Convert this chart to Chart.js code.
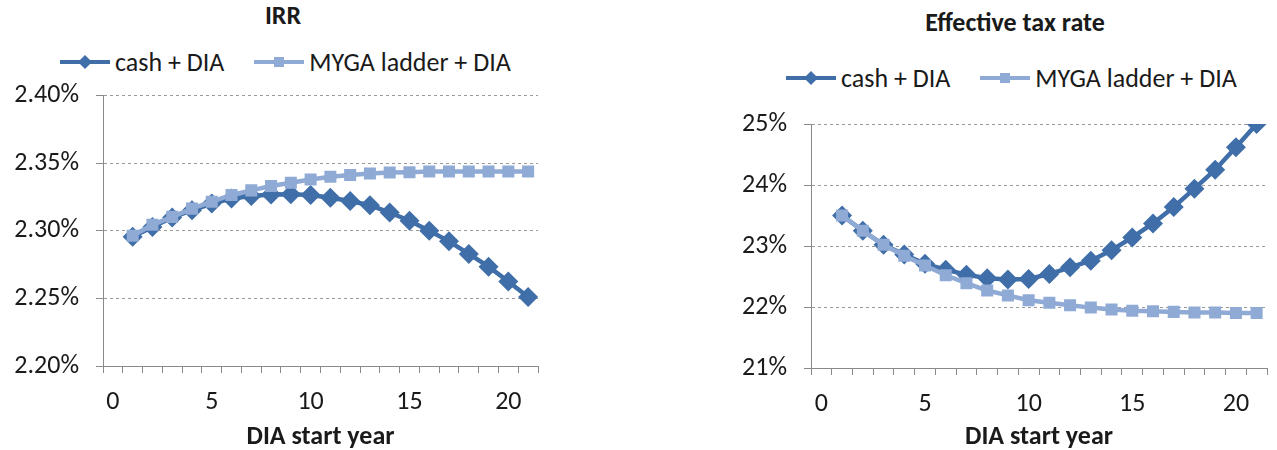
<!DOCTYPE html>
<html>
<head>
<meta charset="utf-8">
<script src="https://cdn.jsdelivr.net/npm/chart.js@4.4.1/dist/chart.umd.min.js"></script>
<style>
  body { margin: 0; background: #fff; font-family: Carlito, Calibri, Lato, sans-serif; color: #1a1a1a; }
  #page { position: relative; width: 1277px; height: 450px; overflow: hidden; }
  .title { position: absolute; font-weight: bold; font-size: 26px; text-align: center; line-height: 30px; }
  .key { position: absolute; display: flex; align-items: center; font-size: 26px; line-height: 30px; white-space: nowrap; }
  .key span { display: inline-flex; align-items: center; margin-right: 30px; }
  .key svg { margin-right: 5px; }
  canvas { position: absolute; }
</style>
</head>
<body>
<div id="page">
  <div class="title" style="left:0;width:566px;top:0">IRR</div>
  <div class="key" id="key-irr" style="left:60px;top:47px"></div>
  <canvas id="irr" width="560" height="387" style="left:0;top:63px"></canvas>

  <div class="title" style="left:753px;width:524px;top:7px">Effective tax rate</div>
  <div class="key" id="key-tax" style="left:786px;top:63px"></div>
  <canvas id="tax" width="577" height="370" style="left:700px;top:80px"></canvas>
</div>
<script>
const years = ['0','1','2','3','4','5','6','7','8','9','10','11','12','13','14','15','16','17','18','19','20','21'];
const seriesNames = ['cash + DIA', 'MYGA ladder + DIA'];

// IRR, in percent
const irrCash = [null, 2.2956, 2.3029, 2.3098, 2.3152, 2.3201, 2.3238, 2.3257, 2.3268, 2.3270, 2.3265, 2.3245, 2.3220, 2.3189, 2.3135, 2.3074, 2.3000, 2.2922, 2.2829, 2.2735, 2.2625, 2.2510];
const irrMyga = [null, 2.2963, 2.3044, 2.3103, 2.3164, 2.3215, 2.3265, 2.3299, 2.3331, 2.3355, 2.3380, 2.3399, 2.3412, 2.3424, 2.3431, 2.3433, 2.3438, 2.3438, 2.3438, 2.3438, 2.3438, 2.3438];

// effective tax rate, in percent
const taxCash = [null, 23.50, 23.25, 23.02, 22.86, 22.71, 22.61, 22.53, 22.47, 22.45, 22.46, 22.54, 22.65, 22.76, 22.93, 23.14, 23.37, 23.64, 23.94, 24.25, 24.62, 25.00];
const taxMyga = [null, 23.50, 23.25, 23.02, 22.84, 22.68, 22.52, 22.39, 22.27, 22.19, 22.11, 22.07, 22.03, 21.99, 21.96, 21.94, 21.93, 21.92, 21.91, 21.91, 21.90, 21.90];

const dark = '#3F6EA8';
const light = '#8FAAD5';
const fontFamily = 'Carlito, Calibri, Lato, sans-serif';
const textColor = '#1a1a1a';
const axisColor = '#8a8a8a';

function addLegend(key) {
  const marks = [
    `<rect x="0" y="8" width="50" height="4" fill="${dark}"/><polygon points="25,3 32,10 25,17 18,10" fill="${dark}"/>`,
    `<rect x="0" y="8" width="50" height="4" fill="${light}"/><rect x="20" y="5" width="10" height="10" fill="${light}"/>`
  ];
  seriesNames.forEach((name, i) => {
    const item = document.createElement('span');
    item.innerHTML = `<svg width="50" height="20">${marks[i]}</svg>${name}`;
    key.append(item);
  });
}

function makeChart(canvas, cash, myga, yOpts, box) {
  const data = {
    labels: years,
    datasets: [{
      label: seriesNames[0],
      data: cash,
      borderColor: dark,
      backgroundColor: dark,
      borderWidth: 4.5,
      pointStyle: 'rectRot',
      pointRadius: 10,
      pointBorderWidth: 0,
      order: 1
    }, {
      label: seriesNames[1],
      data: myga,
      borderColor: light,
      backgroundColor: light,
      borderWidth: 4.5,
      pointStyle: 'rect',
      pointRadius: 8.5,
      pointBorderWidth: 0,
      order: 0
    }]
  };

  const options = {
    responsive: false,
    animation: false,
    layout: { padding: { top: box.top, right: box.right, left: 0, bottom: 0 } },
    plugins: { legend: { display: false }, tooltip: { enabled: false } },
    scales: {
      x: {
        type: 'category',
        offset: true,
        afterFit: (s) => { s.height = box.xHeight; },
        border: { color: axisColor, width: 1 },
        grid: { offset: true, drawOnChartArea: false, tickLength: 7, color: axisColor },
        ticks: {
          autoSkip: false, maxRotation: 0, padding: 14, color: textColor,
          font: { family: fontFamily, size: 26 },
          callback: (v, i) => (i % 5 === 0 ? years[i] : '')
        },
        title: {
          display: true, text: 'DIA start year', color: textColor,
          font: { family: fontFamily, size: 26, weight: 'bold' },
          padding: { top: 0, bottom: -3 }
        }
      },
      y: {
        min: yOpts.min, max: yOpts.max,
        afterFit: (s) => { s.width = box.yWidth; },
        border: { color: axisColor, width: 1, dash: [3, 3] },
        grid: { color: '#9a9a9a', tickBorderDash: [], tickColor: axisColor, tickLength: 7 },
        ticks: {
          stepSize: yOpts.step, padding: 17, color: textColor,
          font: { family: fontFamily, size: 26 },
          callback: yOpts.fmt
        }
      }
    }
  };

  return new Chart(canvas, { type: 'line', data: data, options: options });
}

addLegend(document.getElementById('key-irr'));
addLegend(document.getElementById('key-tax'));

makeChart(document.getElementById('irr'), irrCash, irrMyga,
  { min: 2.2, max: 2.4, step: 0.05, fmt: (v) => v.toFixed(2) + '%' },
  { top: 13, right: 22, yWidth: 103, xHeight: 84 });

makeChart(document.getElementById('tax'), taxCash, taxMyga,
  { min: 21, max: 25, step: 1, fmt: (v) => Math.round(v) + '%' },
  { top: 44, right: 3, yWidth: 111, xHeight: 82 });
</script>
</body>
</html>
